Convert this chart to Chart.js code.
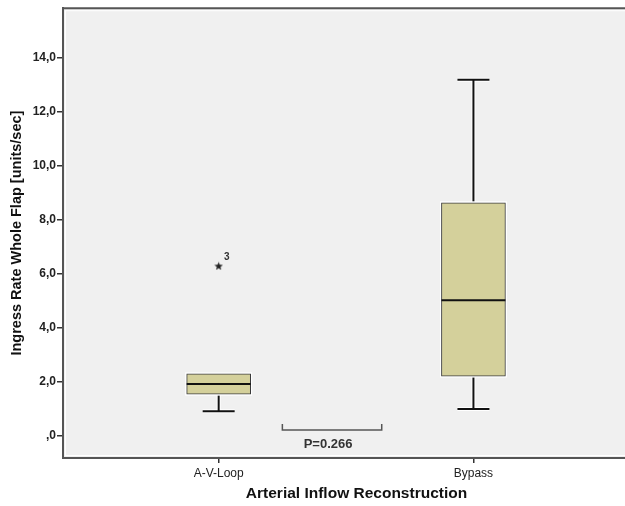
<!DOCTYPE html>
<html>
<head>
<meta charset="utf-8">
<script src="https://cdn.jsdelivr.net/npm/chart.js@4.4.1/dist/chart.umd.min.js"></script>
<style>
html, body { margin: 0; padding: 0; overflow: hidden; background: #fff; }
#wrap { width: 655px; height: 506px; }
</style>
</head>
<body>
<div id="wrap"><canvas id="boxChart" width="655" height="506"></canvas></div>
<script>
// dados (SPSS boxplot)
var categorias = ['A-V-Loop', 'Bypass']
var minimos = [0.92, 1.0]
var q1 = [1.55, 2.22]
var medianas = [1.93, 5.03]
var q3 = [2.30, 8.64]
var maximos = [2.30, 13.2]
var outlierGrupo = [1]      // posicao da categoria (1 = A-V-Loop)
var outlierValor = [6.3]
var outlierId = ['3']
var yTicks = [0, 2, 4, 6, 8, 10, 12, 14]
var pTexto = 'P=0.266'

Chart.defaults.font.family = "'Liberation Sans', Arial, sans-serif"
Chart.defaults.color = '#222'

function estrela() {
    var cv = document.createElement('canvas')
    cv.width = 9
    cv.height = 9
    var c = cv.getContext('2d')
    c.fillStyle = '#222'
    c.beginPath()
    for (var k = 0; k < 10; k++) {
        var r = k % 2 === 0 ? 4.5 : 1.9
        var ang = -Math.PI / 2 + k * Math.PI / 5
        c.lineTo(4.5 + r * Math.cos(ang), 4.9 + r * Math.sin(ang))
    }
    c.closePath()
    c.fill()
    return cv
}

function linha(c, x1, y1, x2, y2) {
    c.beginPath()
    c.moveTo(x1, y1)
    c.lineTo(x2, y2)
    c.stroke()
}

var boxPlot = {
    id: 'boxPlot',
    beforeDraw: function (chart) {
        var a = chart.chartArea, c = chart.ctx
        c.save()
        c.fillStyle = '#f0f0f0'
        c.fillRect(a.left, a.top, a.right - a.left, a.bottom - a.top)
        c.strokeStyle = '#ffffff'
        c.lineWidth = 1
        c.strokeRect(a.left + 2.5, a.top + 2.5, a.right - a.left - 5, a.bottom - a.top - 5)
        c.strokeStyle = '#555'
        c.lineWidth = 2
        linha(c, a.left, a.top, a.right, a.top)
        c.restore()
    },
    beforeDatasetsDraw: function (chart) {
        var c = chart.ctx, sx = chart.scales.x, sy = chart.scales.y
        var bars = chart.getDatasetMeta(0).data
        c.save()
        // halo branco + bigodes
        var passes = [{ cor: '#ffffff', w: 4 }, { cor: '#111', w: 2 }]
        passes.forEach(function (p) {
            c.strokeStyle = p.cor
            c.lineWidth = p.w
            for (var i = 0; i < categorias.length; i++) {
                var px = sx.getPixelForValue(i + 1)
                var half = bars[i].width / 4
                if (maximos[i] > q3[i]) {
                    linha(c, px, sy.getPixelForValue(q3[i]), px, sy.getPixelForValue(maximos[i]))
                    linha(c, px - half, sy.getPixelForValue(maximos[i]), px + half, sy.getPixelForValue(maximos[i]))
                }
                if (minimos[i] < q1[i]) {
                    linha(c, px, sy.getPixelForValue(q1[i]), px, sy.getPixelForValue(minimos[i]))
                    linha(c, px - half, sy.getPixelForValue(minimos[i]), px + half, sy.getPixelForValue(minimos[i]))
                }
            }
        })
        c.strokeStyle = '#ffffff'
        c.lineWidth = 3
        bars.forEach(function (b) {
            c.strokeRect(b.x - b.width / 2, Math.min(b.y, b.base), b.width, Math.abs(b.base - b.y))
        })
        c.restore()
    },
    afterDatasetsDraw: function (chart) {
        var c = chart.ctx, sx = chart.scales.x, sy = chart.scales.y
        var bars = chart.getDatasetMeta(0).data
        c.save()
        c.strokeStyle = '#111'
        c.lineWidth = 2
        for (var i = 0; i < categorias.length; i++) {
            var ym = sy.getPixelForValue(medianas[i])
            linha(c, bars[i].x - bars[i].width / 2, ym, bars[i].x + bars[i].width / 2, ym)
        }
        // rotulo do outlier
        var pts = chart.getDatasetMeta(1).data
        c.fillStyle = '#333'
        c.font = "bold 10px 'Liberation Sans', Arial, sans-serif"
        c.textAlign = 'center'
        c.textBaseline = 'middle'
        pts.forEach(function (pt, k) {
            c.fillText(outlierId[k], pt.x + 8, pt.y - 9)
        })
        // colchete do valor p
        var x1 = sx.getPixelForValue(1.25), x2 = sx.getPixelForValue(1.64)
        var yb = sy.getPixelForValue(0.22)
        c.strokeStyle = '#555'
        c.lineWidth = 1.5
        c.beginPath()
        c.moveTo(x1, yb - 6)
        c.lineTo(x1, yb)
        c.lineTo(x2, yb)
        c.lineTo(x2, yb - 6)
        c.stroke()
        c.fillStyle = '#333'
        c.font = "bold 13px 'Liberation Sans', Arial, sans-serif"
        c.fillText(pTexto, (x1 + x2) / 2 - 4, yb + 14)
        c.restore()
    }
}

var caixas = categorias.map(function (cat, i) {
    return { x: i + 1, y: [q1[i], q3[i]] }
})
var outliers = outlierValor.map(function (v, i) {
    return { x: outlierGrupo[i], y: v }
})

var ctx = document.getElementById('boxChart').getContext('2d')
var grafico = new Chart(ctx, {
    type: 'bar',
    data: {
        datasets: [
            {
                type: 'bar',
                data: caixas,
                backgroundColor: '#d4d09b',
                borderColor: '#3a3a3a',
                borderWidth: 1,
                borderSkipped: false,
                barThickness: 64
            },
            {
                type: 'scatter',
                data: outliers,
                pointStyle: estrela(),
                pointRadius: 4
            }
        ]
    },
    options: {
        responsive: false,
        animation: false,
        layout: { padding: { top: 8, left: 0, right: 0, bottom: 0 } },
        plugins: { legend: { display: false }, tooltip: { enabled: false } },
        scales: {
            x: {
                type: 'linear',
                min: 0.389,
                max: 2.693,
                offset: false,
                afterBuildTicks: function (axis) {
                    axis.ticks = categorias.map(function (cat, i) { return { value: i + 1 } })
                },
                afterFit: function (axis) { axis.height = 48 },
                ticks: {
                    autoSkip: false,
                    maxRotation: 0,
                    padding: 3,
                    font: { size: 12 },
                    callback: function (v) { return categorias[v - 1] }
                },
                grid: { drawOnChartArea: false, drawTicks: true, tickLength: 5, color: '#333', lineWidth: 1.5, offset: false },
                border: { display: true, color: '#555', width: 2 },
                title: {
                    display: true,
                    text: 'Arterial Inflow Reconstruction',
                    color: '#111',
                    font: { size: 15.5, weight: 'bold' },
                    padding: { top: 0, bottom: 3 }
                }
            },
            y: {
                min: -0.815,
                max: 15.85,
                afterBuildTicks: function (axis) {
                    axis.ticks = yTicks.map(function (v) { return { value: v } })
                },
                afterFit: function (axis) { axis.width = 63 },
                ticks: {
                    padding: 1,
                    font: { size: 12, weight: 'bold' },
                    callback: function (v) {
                        return v === 0 ? ',0' : v.toFixed(1).replace('.', ',')
                    }
                },
                grid: { drawOnChartArea: false, drawTicks: true, tickLength: 6, color: '#333', lineWidth: 1.5 },
                border: { display: true, color: '#555', width: 2 },
                title: {
                    display: true,
                    text: 'Ingress Rate Whole Flap [units/sec]',
                    color: '#111',
                    font: { size: 14.5, weight: 'bold' },
                    padding: { top: 8, bottom: 0 }
                }
            }
        }
    },
    plugins: [boxPlot]
})
</script>
</body>
</html>
